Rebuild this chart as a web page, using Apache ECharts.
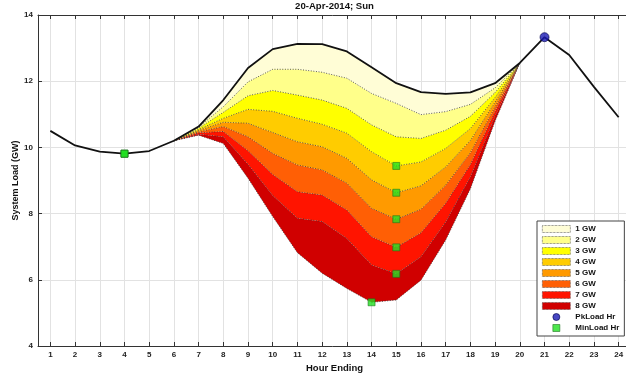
<!DOCTYPE html>
<html>
<head>
<meta charset="utf-8">
<script src="https://cdn.jsdelivr.net/npm/echarts@6/dist/echarts.min.js"></script>
<style>html,body{margin:0;padding:0;background:#fff}#c{width:626px;height:379px}</style>
</head>
<body>
<div id="c"></div>
<script>
const chartTitle = '20-Apr-2014; Sun';
const xAxisName = 'Hour Ending';
const yAxisName = 'System Load (GW)';
const yMin = 4, yMax = 14, yStep = 2;

const hours = [1,2,3,4,5,6,7,8,9,10,11,12,13,14,15,16,17,18,19,20,21,22,23,24];
const load  = [10.50,10.06,9.87,9.81,9.89,10.20,10.63,11.43,12.40,12.97,13.13,13.12,12.90,12.42,11.94,11.67,11.62,11.66,11.94,12.55,13.33,12.79,11.83,10.91];

// net load curves with 1..8 GW of PV, for hours 6..20
const fanHours = [6,7,8,9,10,11,12,13,14,15,16,17,18,19,20];
const gw1 = [10.20,10.61,11.23,11.98,12.36,12.36,12.27,12.09,11.63,11.33,10.99,11.08,11.30,11.80,12.55];
const gw2 = [10.20,10.58,11.06,11.56,11.72,11.58,11.43,11.18,10.68,10.32,10.27,10.52,10.94,11.66,12.55];
const gw3 = [10.20,10.54,10.88,11.15,11.09,10.88,10.70,10.43,9.87,9.44,9.56,9.97,10.57,11.51,12.55];
const gw4 = [10.20,10.51,10.76,10.73,10.45,10.17,10.02,9.67,9.02,8.63,8.84,9.41,10.21,11.37,12.55];
const gw5 = [10.20,10.47,10.63,10.32,9.82,9.47,9.32,8.92,8.16,7.83,8.13,8.86,9.84,11.23,12.55];
const gw6 = [10.20,10.44,10.48,9.90,9.18,8.66,8.56,8.11,7.30,6.98,7.42,8.31,9.48,11.09,12.55];
const gw7 = [10.20,10.40,10.32,9.49,8.55,7.86,7.76,7.25,6.45,6.18,6.70,7.75,9.11,10.94,12.55];
const gw8 = [10.20,10.37,10.12,9.07,7.91,6.82,6.20,5.74,5.32,5.39,5.99,7.20,8.75,10.80,12.55];

const bandNames  = ['1 GW','2 GW','3 GW','4 GW','5 GW','6 GW','7 GW','8 GW'];
const bandColors = ['#FFFDD6','#FFFF8A','#FFFF00','#FFCC00','#FF9A00','#FF5F05','#FF1400','#D00000'];
const peakName = 'PkLoad Hr';
const minName = 'MinLoad Hr';

const FONT = 'Liberation Sans, Arial, sans-serif';
const curves = [gw1,gw2,gw3,gw4,gw5,gw6,gw7,gw8];
const loadAt = h => load[hours.indexOf(h)];
const dotted = {type:[1,1.6], width:0.8, color:'#333'};
// value per hour (null outside the PV hours) for the hidden category axis
const perHour = f => hours.map(h => { const j = fanHours.indexOf(h); return j >= 0 ? +f(j, h).toFixed(4) : null; });

const series = [];
// base: the 8 GW net load line
series.push({
  type:'line', name:'base', stack:'fan', symbol:'none', silent:true, xAxisIndex:2,
  data: perHour(j => gw8[j]),
  lineStyle: dotted, z:2
});
// bands from 8 GW (bottom) up to 1 GW (top)
for (let k = 7; k >= 0; k--) {
  const upper = k === 0 ? fanHours.map(loadAt) : curves[k-1];
  const lower = curves[k];
  series.push({
    type:'line', name: bandNames[k], stack:'fan', symbol:'none', silent:true, xAxisIndex:2,
    color: bandColors[k],
    data: perHour(j => upper[j] - lower[j]),
    areaStyle: {color: bandColors[k], opacity:1},
    lineStyle: k === 0 ? {width:0} : dotted,
    z:2
  });
}
// load line
series.push({
  type:'line', name:'Load', symbol:'none', silent:true,
  data: hours.map((h,i)=>[h, load[i]]),
  lineStyle:{color:'#111', width:1.8}, z:4
});
// peak marker
const pkIdx = load.indexOf(Math.max(...load));
series.push({
  type:'scatter', name: peakName, symbol:'circle', symbolSize:9, z:6,
  itemStyle:{color:'#1a1ab4', borderColor:'#00004a', borderWidth:0.8},
  data: [[hours[pkIdx], load[pkIdx]]]
});
// min markers for load and each net-load curve
const fullCurve = c => hours.map(h => { const j = fanHours.indexOf(h); return j >= 0 ? c[j] : loadAt(h); });
const minPts = [load, ...curves.map(fullCurve)].map(arr => { const m = Math.min(...arr); const i = arr.indexOf(m); return [hours[i], m]; });
series.push({
  type:'scatter', name: minName, symbol:'rect', symbolSize:7, z:6,
  itemStyle:{color:'#22e022', borderColor:'#1b6e1b', borderWidth:0.7},
  data: minPts
});

const legendData = bandNames.map((n,k)=>({
  name:n, icon:'rect',
  itemStyle:{color:bandColors[k], borderColor:'#444', borderWidth:0.7, borderType:'dotted'}
})).concat([
  {name: peakName, icon:'circle', itemStyle:{color:'#1a1ab4', borderColor:'#00004a', borderWidth:0.8}},
  {name: minName, icon:'path://M0,0H10V10H0Z', itemStyle:{color:'#22e022', borderColor:'#1b6e1b', borderWidth:0.7}}
]);

const xCommon = {
  type:'value', min:0.5, max:24.5, splitNumber:24,
  axisLine:{show:true, onZero:false, lineStyle:{color:'#333', width:1}},
  axisTick:{show:true, inside:true, length:4, lineStyle:{color:'#333'}},
};

const option = {
  animation:false,
  backgroundColor:'#fff',
  textStyle:{fontFamily:FONT},
  title:{text:chartTitle, left:334.5, top:1, padding:0, textAlign:'center',
    textStyle:{fontFamily:FONT, fontSize:9.6, fontWeight:'bold', color:'#111'}},
  grid:{left:38, top:15, width:593, height:331, containLabel:false, outerBoundsMode:'none'},
  legend:{
    orient:'vertical', left:537, top:221, padding:[4,5,4,5], itemGap:3,
    itemWidth:28, itemHeight:7, selectedMode:false,
    backgroundColor:'#fff', borderColor:'#444', borderWidth:1, borderRadius:0,
    textStyle:{fontFamily:FONT, fontSize:8, fontWeight:'bold', color:'#111'},
    data: legendData
  },
  xAxis:[
    Object.assign({}, xCommon, {
      position:'bottom', name:xAxisName, nameLocation:'middle', nameGap:17, nameMoveOverlap:false,
      nameTextStyle:{fontFamily:FONT, fontSize:9.5, fontWeight:'bold', color:'#111'},
      axisLabel:{show:true, margin:5, fontFamily:FONT, fontSize:8, fontWeight:'bold', color:'#222',
        formatter: v => Number.isInteger(v) ? String(v) : ''},
      splitLine:{show:true, lineStyle:{color:'#e2e2e2', width:1}}
    }),
    Object.assign({}, xCommon, {
      position:'top', axisLabel:{show:false}, splitLine:{show:false}
    }),
    {type:'category', data: hours.map(String), boundaryGap:true, show:false, position:'bottom',
     axisLine:{show:false}, axisTick:{show:false}, axisLabel:{show:false}, splitLine:{show:false}}
  ],
  yAxis:{
    type:'value', min:yMin, max:yMax, interval:yStep,
    name:yAxisName, nameLocation:'middle', nameGap:18, nameMoveOverlap:false,
    nameTextStyle:{fontFamily:FONT, fontSize:9, fontWeight:'bold', color:'#111'},
    axisLine:{show:true, lineStyle:{color:'#333', width:1}},
    axisTick:{show:true, inside:true, length:4, lineStyle:{color:'#333'}},
    axisLabel:{margin:5, fontFamily:FONT, fontSize:8, fontWeight:'bold', color:'#222'},
    splitLine:{show:true, lineStyle:{color:'#e2e2e2', width:1}}
  },
  series: series
};

const chart = echarts.init(document.getElementById('c'), null, {renderer:'canvas'});
chart.setOption(option);
</script>
</body>
</html>
